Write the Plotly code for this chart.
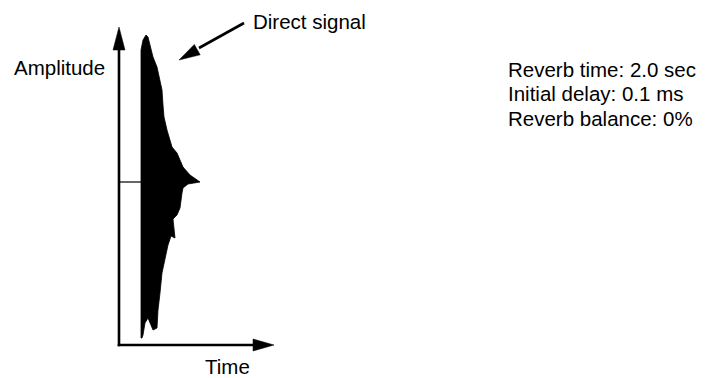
import plotly.graph_objects as go

# Envelope of the direct signal (time offset from the amplitude axis, amplitude from the zero line)
upper_time = [22, 22, 24, 27, 29, 31, 34, 38, 40, 43, 44, 45, 48, 51, 53, 58, 61, 64, 71, 79, 81]
upper_amp = [0, 132, 142, 147, 145, 137, 125, 115, 105, 92, 77, 65, 52, 42, 35, 29, 22, 15, 7, 1, 0]
lower_time = [69, 64, 63, 61, 58, 54, 56, 52, 49, 46, 44, 43, 41, 39, 38, 34, 29, 26, 24, 23, 22, 22]
lower_amp = [-2, -6, -11, -26, -33, -37, -56, -54, -63, -76, -86, -91, -111, -128, -146, -148, -136, -141, -153, -156, -156, 0]

baseline_time = [0, 22]
baseline_amp = [0, 0]

axis_labels = ["Amplitude", "Time"]
callout_label = "Direct signal"
settings_lines = ["Reverb time: 2.0 sec", "Initial delay: 0.1 ms", "Reverb balance: 0%"]

FONT = dict(family="Liberation Sans, Arial, Helvetica, sans-serif", size=20.5, color="#000000")

fig = go.Figure()

fig.add_trace(go.Scatter(
    x=upper_time + lower_time,
    y=upper_amp + lower_amp,
    mode="lines",
    fill="toself",
    fillcolor="#000000",
    line=dict(color="#000000", width=0.8),
    hoverinfo="skip",
    showlegend=False,
))

fig.add_trace(go.Scatter(
    x=baseline_time, y=baseline_amp, mode="lines",
    line=dict(color="#000000", width=1.2),
    hoverinfo="skip", showlegend=False,
))

shapes = []
W = 2.6
# vertical amplitude axis
shapes.append(dict(type="line", x0=0, y0=-164.3, x1=0, y1=132, line=dict(color="black", width=W)))
shapes.append(dict(type="path", path="M -6,132 L 6,132 L 0,155 Z", fillcolor="black", line=dict(color="black", width=0.5)))
# horizontal time axis
shapes.append(dict(type="line", x0=-1.3, y0=-163, x1=134, y1=-163, line=dict(color="black", width=W)))
shapes.append(dict(type="path", path="M 134,-157 L 134,-169 L 155,-163 Z", fillcolor="black", line=dict(color="black", width=0.5)))
# callout arrow
shapes.append(dict(type="line", x0=125, y0=159, x1=80, y1=134, line=dict(color="black", width=W)))
shapes.append(dict(type="path", path="M 81.2,127.2 L 75.3,137.6 L 60,122 Z", fillcolor="black", line=dict(color="black", width=0.5)))

annotations = [
    dict(x=-107, y=115, text=axis_labels[0], xanchor="left", yanchor="middle", showarrow=False, font=FONT),
    dict(x=84, y=-184, text=axis_labels[1], xanchor="left", yanchor="middle", showarrow=False, font=FONT),
    dict(x=132, y=160.5, text=callout_label, xanchor="left", yanchor="middle", showarrow=False, font=FONT),
]
for line, yy in zip(settings_lines, [113, 88.5, 64]):
    annotations.append(dict(x=387, y=yy, text=line, xanchor="left", yanchor="middle", showarrow=False, font=FONT))

fig.update_layout(
    width=705, height=378,
    margin=dict(l=0, r=0, t=0, b=0),
    paper_bgcolor="white", plot_bgcolor="white",
    xaxis=dict(range=[-111, 594], visible=False, fixedrange=True),
    yaxis=dict(range=[-204, 174], visible=False, fixedrange=True),
    shapes=shapes,
    annotations=annotations,
    showlegend=False,
)

fig.write_html("out.html")
